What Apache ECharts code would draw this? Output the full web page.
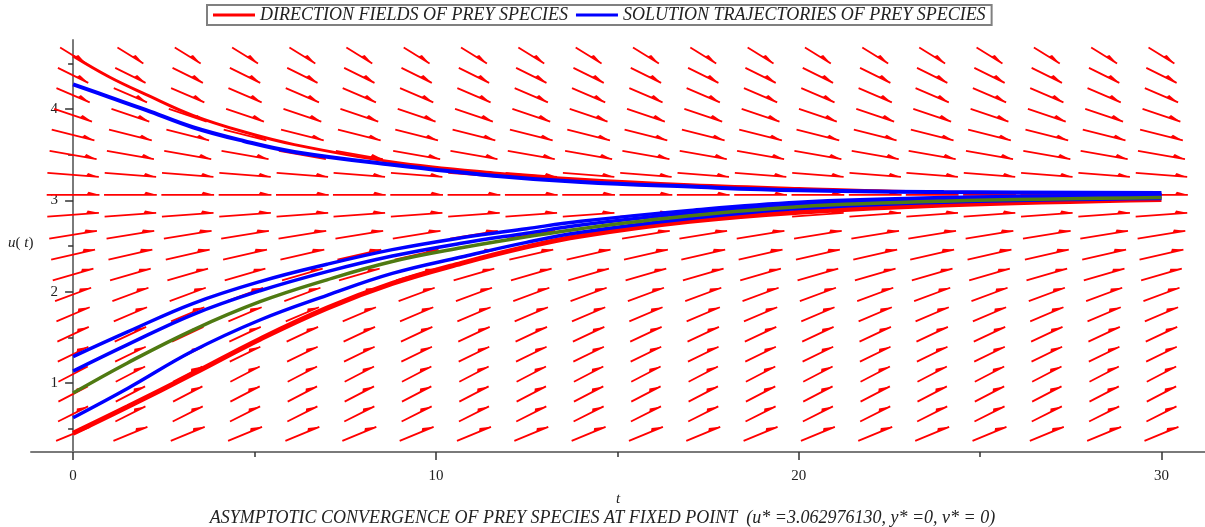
<!DOCTYPE html>
<html><head><meta charset="utf-8">
<script src="https://cdn.jsdelivr.net/npm/echarts@6/dist/echarts.min.js"></script>
<style>html,body{margin:0;padding:0;background:#fff}#c{width:1205px;height:527px}</style>
</head><body><div id="c"></div>
<script>
// direction-field grid (t columns, u rows) and arrow slope du/dt read per row
const tCols = [0, 1.58, 3.16, 4.74, 6.32, 7.89, 9.47, 11.05, 12.63, 14.21, 15.79, 17.37, 18.95, 20.53, 22.11, 23.68, 25.26, 26.84, 28.42, 30];
const uRows = [0.444, 0.662, 0.88, 1.098, 1.316, 1.534, 1.752, 1.97, 2.188, 2.406, 2.624, 2.842, 3.06, 3.278, 3.496, 3.714, 3.932, 4.15, 4.368, 4.586];
const rowSlopes = [0.164, 0.199, 0.206, 0.206, 0.194, 0.186, 0.170, 0.147, 0.114, 0.092, 0.065, 0.029, 0, -0.031, -0.070, -0.100, -0.134, -0.170, -0.196, -0.245];

// solution trajectories [t, u]
const upperRed = [[0,4.58],[1,4.35],[2,4.16],[3.3,3.93],[4.7,3.75],[6.1,3.61],[8.8,3.42],[11.6,3.30],[14,3.23],[17,3.17],[20,3.13],[24,3.09],[30,3.07]];
const upperBlue = [[0,4.27],[1,4.13],[2,3.99],[3.3,3.80],[4.7,3.65],[6.1,3.53],[8.8,3.39],[11.6,3.27],[14,3.20],[17,3.15],[20,3.11],[24,3.09],[30,3.08]];
const lowerBlue1 = [[0,1.29],[1.5,1.56],[3.3,1.87],[5.15,2.11],[7,2.30],[8.8,2.46],[10.7,2.59],[12.5,2.69],[14,2.77],[17,2.89],[20,2.98],[24,3.03],[30,3.06]];
const lowerBlue2 = [[0,1.13],[1.5,1.42],[3.3,1.75],[5.15,2.01],[7,2.22],[8.8,2.39],[10.7,2.53],[12.5,2.64],[14,2.73],[17,2.86],[20,2.96],[24,3.02],[30,3.05]];
const greenCurve = [[0,0.89],[1.5,1.22],[3.3,1.58],[5.15,1.89],[7,2.13],[8.8,2.33],[10.7,2.48],[12.5,2.60],[14,2.69],[17,2.83],[20,2.93],[24,2.99],[30,3.03]];
const lowerBlue3 = [[0,0.62],[1.5,0.94],[3.3,1.35],[5.15,1.69],[7,1.96],[8.8,2.20],[10.7,2.38],[12.5,2.54],[14,2.65],[17,2.80],[20,2.91],[24,2.98],[30,3.02]];
const lowerRed = [[0,0.45],[1.5,0.74],[3.3,1.10],[5.15,1.48],[7,1.82],[8.8,2.09],[10.7,2.31],[12.5,2.49],[14,2.61],[17,2.77],[20,2.87],[24,2.95],[30,3.01]];

// axis ticks and labels
const xMajorTicks = [0, 10, 20, 30];
const xMinorTicks = [5, 15, 25];
const yMajorTicks = [1, 2, 3, 4];
const yMinorTicks = [0.5, 1.5, 2.5, 3.5, 4.5];

const legendNames = ['DIRECTION FIELDS OF PREY SPECIES', 'SOLUTION TRAJECTORIES OF PREY SPECIES'];
const caption = 'ASYMPTOTIC CONVERGENCE OF PREY SPECIES AT FIXED POINT  (u* =3.062976130, y* =0, v* = 0)';

const SERIF = "'Liberation Serif', 'DejaVu Serif', serif";
const X_MIN = -1.16, X_MAX = 31.2, Y_MIN = 0.245, Y_MAX = 4.755;

const fieldData = [];
for (let j = 0; j < uRows.length; j++) {
  for (let i = 0; i < tCols.length; i++) fieldData.push([tCols[i], uRows[j], rowSlopes[j]]);
}
const dT = tCols[1] - tCols[0];
const dU = uRows[1] - uRows[0];

function renderArrow(params, api) {
  const t = api.value(0), u = api.value(1), s = api.value(2);
  const a = 1 / dT, b = s / dU;
  const n = Math.hypot(a, b);
  const half = 0.46;
  const ht = half * (a / n) * dT, hu = half * (b / n) * dU;
  const p0 = api.coord([t - ht, u - hu]);
  const p1 = api.coord([t + ht, u + hu]);
  const len = Math.hypot(p1[0] - p0[0], p1[1] - p0[1]);
  const dx = (p1[0] - p0[0]) / len, dy = (p1[1] - p0[1]) / len;
  const nx = dy, ny = -dx;
  const hl = 13, hw = 3.2;
  return {
    type: 'group',
    children: [
      { type: 'line', shape: { x1: p0[0], y1: p0[1], x2: p1[0], y2: p1[1] },
        style: { stroke: '#ff0000', lineWidth: 1.8 } },
      { type: 'polygon', shape: { points: [
          [p1[0], p1[1]],
          [p1[0] - hl * dx, p1[1] - hl * dy],
          [p1[0] - (hl - 2) * dx + hw * nx, p1[1] - (hl - 2) * dy + hw * ny]
        ] }, style: { fill: '#ff0000' } }
    ]
  };
}

function traj(name, data, color, width) {
  return { type: 'line', name, data, smooth: 0.4, showSymbol: false, symbol: 'none',
    lineStyle: { color, width }, itemStyle: { color }, z: 3, silent: true, animation: false };
}

const chart = echarts.init(document.getElementById('c'), null, { renderer: 'canvas' });
chart.setOption({
  animation: false,
  backgroundColor: '#ffffff',
  grid: { left: 31, right: 0, top: 40, bottom: 75, containLabel: false },
  title: { text: caption, left: 'center', top: 504,
    textStyle: { fontFamily: SERIF, fontStyle: 'italic', fontWeight: 'normal', fontSize: 18, color: '#222' } },
  legend: {
    left: 207, top: 5, padding: [1, 6, 1, 6], itemGap: 8, itemWidth: 42, itemHeight: 3,
    borderColor: '#808080', borderWidth: 2, backgroundColor: '#fff',
    textStyle: { fontFamily: SERIF, fontStyle: 'italic', fontSize: 18, color: '#222' },
    data: [ { name: legendNames[0], icon: 'rect' }, { name: legendNames[1], icon: 'rect' } ],
    selectedMode: false
  },
  xAxis: [
    { type: 'value', min: X_MIN, max: X_MAX, position: 'bottom',
      name: 't', nameLocation: 'middle', nameGap: 40,
      nameTextStyle: { fontFamily: SERIF, fontStyle: 'italic', fontSize: 15, color: '#222' },
      axisLine: { onZero: false, lineStyle: { color: '#7a7a7a', width: 2 } },
      axisTick: { customValues: xMajorTicks, length: 8, lineStyle: { color: '#333', width: 1.5 } },
      axisLabel: { customValues: xMajorTicks, margin: 17, fontFamily: SERIF, fontSize: 15, color: '#222' },
      splitLine: { show: false } },
    { type: 'value', min: X_MIN, max: X_MAX, position: 'top', offset: -412,
      axisLine: { show: false, onZero: false },
      axisTick: { customValues: xMinorTicks, length: 5, inside: true, lineStyle: { color: '#333', width: 1.5 } },
      axisLabel: { show: false }, splitLine: { show: false } }
  ],
  yAxis: [
    { type: 'value', min: Y_MIN, max: Y_MAX, position: 'left',
      axisLine: { onZero: true, onZeroAxisIndex: 0, lineStyle: { color: '#7a7a7a', width: 2 } },
      axisTick: { customValues: yMajorTicks, length: 8, lineStyle: { color: '#333', width: 1.5 } },
      axisLabel: { customValues: yMajorTicks, margin: -27, fontFamily: SERIF, fontSize: 15, color: '#222' },
      splitLine: { show: false } },
    { type: 'value', min: Y_MIN, max: Y_MAX, position: 'right',
      axisLine: { show: false, onZero: true, onZeroAxisIndex: 0 },
      axisTick: { customValues: yMinorTicks, length: 5, inside: true, lineStyle: { color: '#333', width: 1.5 } },
      axisLabel: { show: false }, splitLine: { show: false } }
  ],
  graphic: [
    { type: 'text', left: 8, top: 236,
      style: { text: '{i|u}( {i|t})', fontFamily: SERIF, fontSize: 15, fill: '#222',
        rich: { i: { fontFamily: SERIF, fontStyle: 'italic', fontSize: 15, fill: '#222' } } } }
  ],
  series: [
    { type: 'custom', name: legendNames[0], renderItem: renderArrow, data: fieldData,
      encode: { x: 0, y: 1 }, clip: false, z: 2, silent: true, itemStyle: { color: '#ff0000' } },
    traj('upper red', upperRed, '#ff0000', 3),
    traj('lower red', lowerRed, '#ff0000', 5),
    traj(legendNames[1], upperBlue, '#0000ff', 4),
    traj(legendNames[1], lowerBlue1, '#0000ff', 3.5),
    traj(legendNames[1], lowerBlue2, '#0000ff', 3.5),
    traj(legendNames[1], lowerBlue3, '#0000ff', 3.5),
    traj('green', greenCurve, '#4f7a12', 3.5)
  ]
});
</script></body></html>
